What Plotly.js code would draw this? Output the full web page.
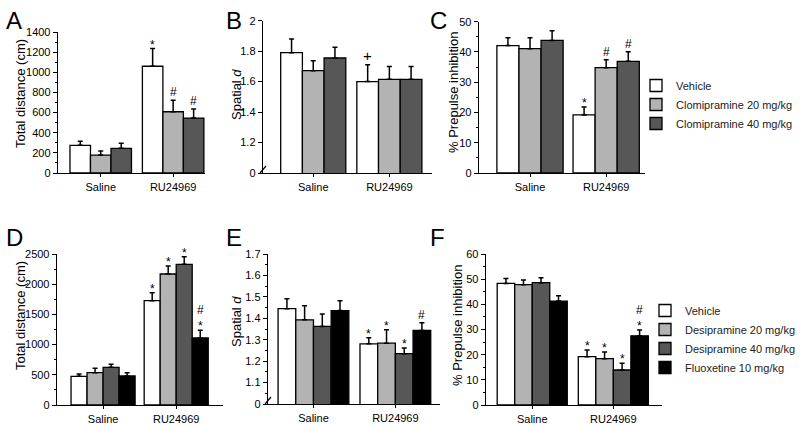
<!DOCTYPE html>
<html><head><meta charset="utf-8">
<script src="https://cdn.plot.ly/plotly-3.0.1.min.js"></script>
<style>html,body{margin:0;padding:0;background:#fff}#chart{width:800px;height:425px}</style>
</head><body><div id="chart"></div>
<script>
// ---------- data ----------
const categories = ['Saline', 'RU24969'];
const topSeries = ['Vehicle', 'Clomipramine 20 mg/kg', 'Clomipramine 40 mg/kg'];
const bottomSeries = ['Vehicle', 'Desipramine 20 mg/kg', 'Desipramine 40 mg/kg', 'Fluoxetine 10 mg/kg'];

// Panel A: total distance (cm)  [Saline, RU24969] per series
const aMean = [[275, 1060], [178, 608], [245, 545]];
const aSem  = [[40, 175], [40, 115], [50, 90]];
const aMark = [['', '*'], ['', '#'], ['', '#']];
// Panel B: spatial d
const bMean = [[1.79, 1.60], [1.672, 1.615], [1.755, 1.615]];
const bSem  = [[0.09, 0.11], [0.065, 0.085], [0.07, 0.085]];
const bMark = [['', '+'], ['', ''], ['', '']];
// Panel C: % prepulse inhibition
const cMean = [[42.1, 19.2], [41.1, 34.8], [43.8, 36.9]];
const cSem  = [[2.6, 2.6], [3.6, 2.6], [3.2, 3.2]];
const cMark = [['', '*'], ['', '#'], ['', '#']];
// Panel D: total distance (cm)
const dMean = [[475, 1727], [535, 2169], [624, 2329], [480, 1110]];
const dSem  = [[38, 133], [72, 132], [49, 127], [55, 127]];
const dMark = [['', '*'], ['', '*'], ['', '*'], ['', '#*']];
// Panel E: spatial d
const eMean = [[1.445, 1.281], [1.393, 1.284], [1.362, 1.235], [1.436, 1.343]];
const eSem  = [[0.046, 0.028], [0.066, 0.062], [0.058, 0.026], [0.046, 0.036]];
const eMark = [['', '*'], ['', '*'], ['', '*'], ['', '#']];
// Panel F: % prepulse inhibition
const fMean = [[48.3, 19.2], [47.8, 18.4], [48.6, 13.9], [41.3, 27.5]];
const fSem  = [[2.0, 2.7], [1.9, 2.7], [2.0, 2.7], [2.1, 2.3]];
const fMark = [['', '*'], ['', '*'], ['', '*'], ['', '#*']];

const topColors = ['#ffffff', '#b3b3b3', '#575757'];
const bottomColors = ['#ffffff', '#b3b3b3', '#575757', '#000000'];

// ---------- layout helpers ----------
const W = 800, H = 425;
const FONT = 'Liberation Sans, Arial, sans-serif';
function px(x0, x1) { return [x0 / W, x1 / W]; }
function py(yTop, yBot) { return [1 - yBot / H, 1 - yTop / H]; }

const panels = [
  {id: '', letter: 'A', lx: 4, ly: 5, mean: aMean, sem: aSem, mark: aMark, names: topSeries, colors: topColors,
   xd: px(58, 205), yd: py(32, 173), xr: [-0.59, 1.44], w: 0.283,
   yr: [0, 1400], tickvals: [0,200,400,600,800,1000,1200,1400], ticktext: null, minor: 100,
   title: 'Total distance (cm)', tx: 20, ty: 94, legend: null},
  {id: '2', letter: 'B', lx: 224, ly: 5, mean: bMean, sem: bSem, mark: bMark, names: topSeries, colors: topColors,
   xd: px(263, 432), yd: py(20.7, 173), xr: [-0.66, 1.56], w: 0.285,
   yr: [1, 2], tickvals: [1, 1.2, 1.4, 1.6, 1.8, 2], ticktext: ['0', '1.2', '1.4', '1.6', '1.8', '2'], minor: null,
   title: 'Spatial <i>d</i>', tx: 237, ty: 95, legend: null, brk: [263, 171]},
  {id: '3', letter: 'C', lx: 428, ly: 5, mean: cMean, sem: cSem, mark: cMark, names: topSeries, colors: topColors,
   xd: px(479, 645), yd: py(21.7, 173), xr: [-0.67, 1.51], w: 0.29,
   yr: [0, 50], tickvals: [0, 10, 20, 30, 40, 50], ticktext: null, minor: 5,
   title: '% Prepulse inhibition', tx: 454, ty: 93, legend: 'legend'},
  {id: '4', letter: 'D', lx: 4, ly: 222, mean: dMean, sem: dSem, mark: dMark, names: bottomSeries, colors: bottomColors,
   xd: px(57, 223), yd: py(254, 405), xr: [-0.63, 1.64], w: 0.219,
   yr: [0, 2500], tickvals: [0, 500, 1000, 1500, 2000, 2500], ticktext: null, minor: 250,
   title: 'Total distance (cm)', tx: 20, ty: 316, legend: null},
  {id: '5', letter: 'E', lx: 224, ly: 222, mean: eMean, sem: eSem, mark: eMark, names: bottomSeries, colors: bottomColors,
   xd: px(268, 440), yd: py(254, 404), xr: [-0.555, 1.545], w: 0.216,
   yr: [1, 1.7], tickvals: [1, 1.1, 1.2, 1.3, 1.4, 1.5, 1.6, 1.7], ticktext: ['0', '1.1', '1.2', '1.3', '1.4', '1.5', '1.6', '1.7'], minor: 0.05,
   title: 'Spatial <i>d</i>', tx: 236, ty: 322, legend: null, brk: [268, 402]},
  {id: '6', letter: 'F', lx: 428, ly: 222, mean: fMean, sem: fSem, mark: fMark, names: bottomSeries, colors: bottomColors,
   xd: px(486, 662), yd: py(254, 405), xr: [-0.57, 1.60], w: 0.216,
   yr: [0, 60], tickvals: [0, 10, 20, 30, 40, 50, 60], ticktext: null, minor: 5,
   title: '% Prepulse inhibition', tx: 457, ty: 326, legend: 'legend2'}
];

const traces = [];
const layout = {
  width: W, height: H,
  margin: {l: 0, r: 0, t: 0, b: 0, autoexpand: false},
  paper_bgcolor: '#ffffff', plot_bgcolor: 'rgba(0,0,0,0)',
  font: {family: FONT, size: 11, color: '#000'},
  barmode: 'overlay',
  showlegend: true,
  legend: {x: 636 / W, y: 1 - 71 / H, xanchor: 'left', yanchor: 'top', bgcolor: 'rgba(0,0,0,0)',
           font: {family: FONT, size: 11, color: '#222'}, itemwidth: 30, tracegroupgap: 0},
  legend2: {x: 645 / W, y: 1 - 296 / H, xanchor: 'left', yanchor: 'top', bgcolor: 'rgba(0,0,0,0)',
           font: {family: FONT, size: 11, color: '#222'}, itemwidth: 30, tracegroupgap: 0},
  annotations: [],
  shapes: []
};

panels.forEach(p => {
  const xa = 'x' + p.id, ya = 'y' + p.id;
  const n = p.names.length;
  p.names.forEach((name, i) => {
    const off = (i - (n - 1) / 2) * p.w;
    const xs = categories.map((c, g) => g + off);
    const t = {
      type: 'bar', name: name, x: xs, y: p.mean[i], width: p.w,
      xaxis: xa, yaxis: ya,
      marker: {color: p.colors[i], line: {color: '#000', width: 1.3}},
      error_y: {type: 'data', symmetric: false, array: p.sem[i], arrayminus: p.sem[i].map(() => 0),
                color: '#000', thickness: 1.5, width: 2.5},
      showlegend: !!p.legend, hoverinfo: 'skip'
    };
    if (p.legend) t.legend = p.legend;
    traces.push(t);
    // significance marks above the error bars
    categories.forEach((c, g) => {
      const m = p.mark[i][g];
      if (!m) return;
      const top = p.mean[i][g] + p.sem[i][g];
      let text, shift, size = 12;
      if (m === '#*') { text = '#<br>*'; shift = -5; }
      else if (m === '*') { text = '*'; shift = -5; }
      else if (m === '+') { text = '+'; shift = -1; size = 15; }
      else { text = m; shift = -1; }
      layout.annotations.push({
        xref: xa, yref: ya, x: xs[g], y: top, text: text, showarrow: false,
        yanchor: 'bottom', xanchor: 'center', yshift: shift,
        font: {family: FONT, size: size, color: '#000'}
      });
    });
  });
  const axKeyX = 'xaxis' + p.id, axKeyY = 'yaxis' + p.id;
  layout[axKeyX] = {
    domain: p.xd, range: p.xr, anchor: ya, tickmode: 'array', tickvals: [0, 1], ticktext: categories,
    ticks: 'outside', ticklen: 3, tickwidth: 1, tickcolor: '#000', showline: true, linecolor: '#000', linewidth: 1.3,
    showgrid: false, zeroline: false, fixedrange: true, tickfont: {family: FONT, size: 11, color: '#000'}
  };
  const yax = {
    domain: p.yd, range: p.yr, anchor: xa, tickmode: 'array', tickvals: p.tickvals,
    ticks: 'outside', ticklen: 4, tickwidth: 1, tickcolor: '#000', showline: true, linecolor: '#000', linewidth: 1.3,
    showgrid: false, zeroline: false, fixedrange: true, tickfont: {family: FONT, size: 11, color: '#000'}
  };
  if (p.ticktext) yax.ticktext = p.ticktext;
  if (p.minor) yax.minor = {tickmode: 'linear', tick0: 0, dtick: p.minor, ticks: 'outside', ticklen: 2, tickcolor: '#000', showgrid: false};
  layout[axKeyY] = yax;
  // y-axis title (rotated text)
  layout.annotations.push({
    xref: 'paper', yref: 'paper', x: p.tx / W, y: 1 - p.ty / H, xanchor: 'center', yanchor: 'middle',
    text: p.title, textangle: -90, showarrow: false, font: {family: FONT, size: 13, color: '#000'}
  });
  // panel letter
  layout.annotations.push({
    xref: 'paper', yref: 'paper', x: p.lx / W, y: 1 - p.ly / H, xanchor: 'left', yanchor: 'top',
    text: p.letter, showarrow: false, font: {family: FONT, size: 24, color: '#000'}
  });
  if (p.brk) {
    const [bx, by] = p.brk;
    layout.shapes.push({type: 'line', xref: 'paper', yref: 'paper',
      x0: (bx - 3) / W, y0: 1 - (by + 2) / H, x1: (bx + 3) / W, y1: 1 - (by - 5) / H,
      line: {color: '#000', width: 1.2}});
  }
});

Plotly.newPlot('chart', traces, layout, {staticPlot: true, displayModeBar: false});
</script>
</body></html>
